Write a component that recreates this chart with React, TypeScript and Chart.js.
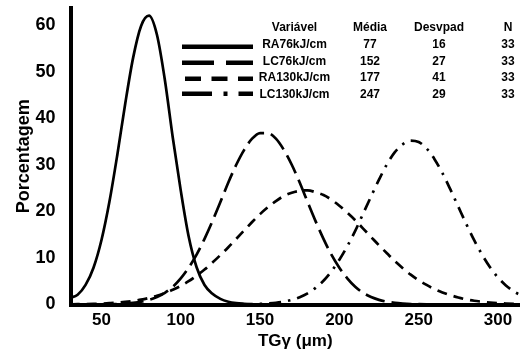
import React, { useEffect, useRef } from 'react';
import { Chart, registerables } from 'chart.js';

Chart.register(...registerables);

// x positions (TGγ, µm)
const xValues = [
  30, 35, 40, 45, 50, 55, 60, 65, 70, 75, 80, 85, 90, 95, 100, 105, 110, 115, 120, 125,
  130, 135, 140, 145, 150, 155, 160, 165, 170, 175, 180, 185, 190, 195, 200, 205, 210, 215, 220, 225,
  230, 235, 240, 245, 250, 255, 260, 265, 270, 275, 280, 285, 290, 295, 300, 305, 310, 315, 320,
];

// Percentage curves
const ra76 = [
  1.4, 2.1, 4.2, 7.9, 13.8, 22.0, 32.1, 43.1, 53.0, 59.8, 62.0, 57.9, 48.2, 35.8, 24.5, 14.6, 8.0, 4.2, 2.3, 1.2,
  0.6, 0.3, 0.15, 0.05, 0, 0, 0, 0, 0, 0, 0, 0, 0, 0, 0, 0, 0, 0, 0, 0,
  0, 0, 0, 0, 0, 0, 0, 0, 0, 0, 0, 0, 0, 0, 0, 0, 0, 0, 0,
];
const lc76 = [
  0, 0, 0, 0.02, 0.03, 0.06, 0.1, 0.2, 0.35, 0.6, 1.0, 1.6, 2.5, 3.8, 5.6, 7.9, 10.7, 14.1, 17.9, 22.0,
  26.2, 30.0, 33.2, 35.6, 36.8, 36.8, 35.6, 33.2, 30.0, 26.2, 22.0, 17.9, 14.1, 10.7, 7.9, 5.6, 3.8, 2.5, 1.6, 1.0,
  0.6, 0.35, 0.2, 0.1, 0.06, 0.03, 0.02, 0, 0, 0, 0, 0, 0, 0, 0, 0, 0, 0, 0,
];
const ra130 = [
  0.04, 0.06, 0.09, 0.13, 0.19, 0.28, 0.39, 0.55, 0.76, 1.04, 1.41, 1.87, 2.45, 3.16, 4.0, 5.0, 6.2, 7.5, 9.0, 10.6,
  12.3, 14.1, 15.9, 17.7, 19.4, 20.9, 22.2, 23.3, 24.0, 24.4, 24.5, 24.1, 23.5, 22.5, 21.2, 19.7, 18.1, 16.3, 14.5, 12.7,
  11.0, 9.3, 7.8, 6.4, 5.2, 4.2, 3.3, 2.6, 2.0, 1.5, 1.1, 0.8, 0.6, 0.42, 0.29, 0.2, 0.13, 0.09, 0.06,
];
const lc130 = [
  0, 0, 0, 0, 0, 0, 0, 0, 0, 0, 0, 0, 0, 0, 0, 0, 0, 0, 0, 0,
  0, 0, 0.03, 0.06, 0.12, 0.22, 0.37, 0.62, 1.0, 1.58, 2.4, 3.57, 5.1, 7.1, 9.6, 12.5, 15.8, 19.5, 23.2, 26.8,
  30.1, 32.7, 34.4, 35.2, 34.9, 33.5, 31.2, 28.2, 24.7, 21.0, 17.3, 13.8, 10.7, 8.0, 5.8, 4.1, 2.8, 1.9, 1.2,
];

// Statistics table
const tableHeaders = ['Variável', 'Média', 'Desvpad', 'N'];
const variableNames = ['RA76kJ/cm', 'LC76kJ/cm', 'RA130kJ/cm', 'LC130kJ/cm'];
const means = ['77', '152', '177', '247'];
const stdDevs = ['16', '27', '41', '29'];
const counts = ['33', '33', '33', '33'];

const FONT = '"Liberation Sans", Arial, Helvetica, sans-serif';

const curveDashes: number[][] = [[], [20, 7], [10, 7], [12, 7, 2.5, 7]];
const sampleDashes: number[][] = [[], [32, 12], [16, 10.5], [30, 11.5, 4, 11]];

const tablePlugin = {
  id: 'statsTable',
  afterDraw(chart: any) {
    const ctx = chart.ctx as CanvasRenderingContext2D;
    ctx.save();
    ctx.fillStyle = '#000';
    ctx.font = `bold 12px ${FONT}`;
    ctx.textAlign = 'center';
    ctx.textBaseline = 'middle';
    const colX = [294.5, 370, 439, 508];
    const headerY = 28;
    const rowY = [44.5, 61.5, 78, 94.5];
    tableHeaders.forEach((h, i) => ctx.fillText(h, colX[i], headerY));
    variableNames.forEach((name, r) => {
      ctx.fillText(name, colX[0], rowY[r]);
      ctx.fillText(means[r], colX[1], rowY[r]);
      ctx.fillText(stdDevs[r], colX[2], rowY[r]);
      ctx.fillText(counts[r], colX[3], rowY[r]);
    });
    // line samples
    const lineY = [46.7, 62.8, 78.8, 93.8];
    const startX = [182, 182, 185, 182];
    const endX = 253;
    ctx.strokeStyle = '#000';
    ctx.lineWidth = 4.5;
    ctx.lineCap = 'butt';
    lineY.forEach((y, i) => {
      ctx.setLineDash(sampleDashes[i]);
      ctx.beginPath();
      ctx.moveTo(startX[i], y);
      ctx.lineTo(endX, y);
      ctx.stroke();
    });
    ctx.restore();
  },
};

export default function App() {
  const canvasRef = useRef<HTMLCanvasElement | null>(null);

  useEffect(() => {
    document.body.style.margin = '0';
    const canvas = canvasRef.current;
    if (!canvas) return;
    const series = [ra76, lc76, ra130, lc130];
    const chart = new Chart(canvas, {
      type: 'line',
      data: {
        labels: xValues,
        datasets: series.map((vals, i) => ({
          label: variableNames[i],
          data: vals.map((v, j) => ({ x: xValues[j], y: v })),
          borderColor: '#000',
          backgroundColor: '#000',
          borderWidth: 2.7,
          borderDash: curveDashes[i],
          borderCapStyle: 'butt' as const,
          pointRadius: 0,
          fill: false,
          cubicInterpolationMode: 'monotone' as const,
        })),
      },
      options: {
        responsive: false,
        animation: false,
        devicePixelRatio: 1,
        layout: { padding: { top: 8, right: 0, bottom: 0, left: 0 } },
        plugins: {
          legend: { display: false },
          tooltip: { enabled: false },
        },
        scales: {
          x: {
            type: 'linear',
            min: 30.5,
            max: 313.9,
            grid: { display: false, drawTicks: false },
            border: { display: true, color: '#000', width: 4 },
            ticks: {
              stepSize: 50,
              includeBounds: false,
              color: '#000',
              padding: 6,
              maxRotation: 0,
              font: { family: FONT, size: 17, weight: 'bold' },
            },
            title: {
              display: true,
              text: 'TGγ (μm)',
              color: '#000',
              font: { family: FONT, size: 17, weight: 'bold' },
              padding: { top: 0, bottom: 2 },
            },
            afterFit: (scale: any) => {
              scale.height = 49.5;
              scale.paddingLeft = 0;
              scale.paddingRight = 0;
            },
          },
          y: {
            min: 0,
            max: 63.65,
            grid: { display: false, drawTicks: false },
            border: { display: true, color: '#000', width: 4 },
            ticks: {
              stepSize: 10,
              includeBounds: false,
              color: '#000',
              padding: 15,
              font: { family: FONT, size: 18, weight: 'bold' },
            },
            title: {
              display: true,
              text: 'Porcentagem',
              color: '#000',
              font: { family: FONT, size: 18, weight: 'bold' },
              padding: { top: 13, bottom: 0 },
            },
            afterFit: (scale: any) => {
              scale.width = 70.5;
              scale.paddingTop = 0;
              scale.paddingBottom = 0;
            },
          },
        },
      },
      plugins: [tablePlugin],
    });
    return () => chart.destroy();
  }, []);

  return <canvas ref={canvasRef} width={520} height={354} style={{ display: 'block' }} />;
}
